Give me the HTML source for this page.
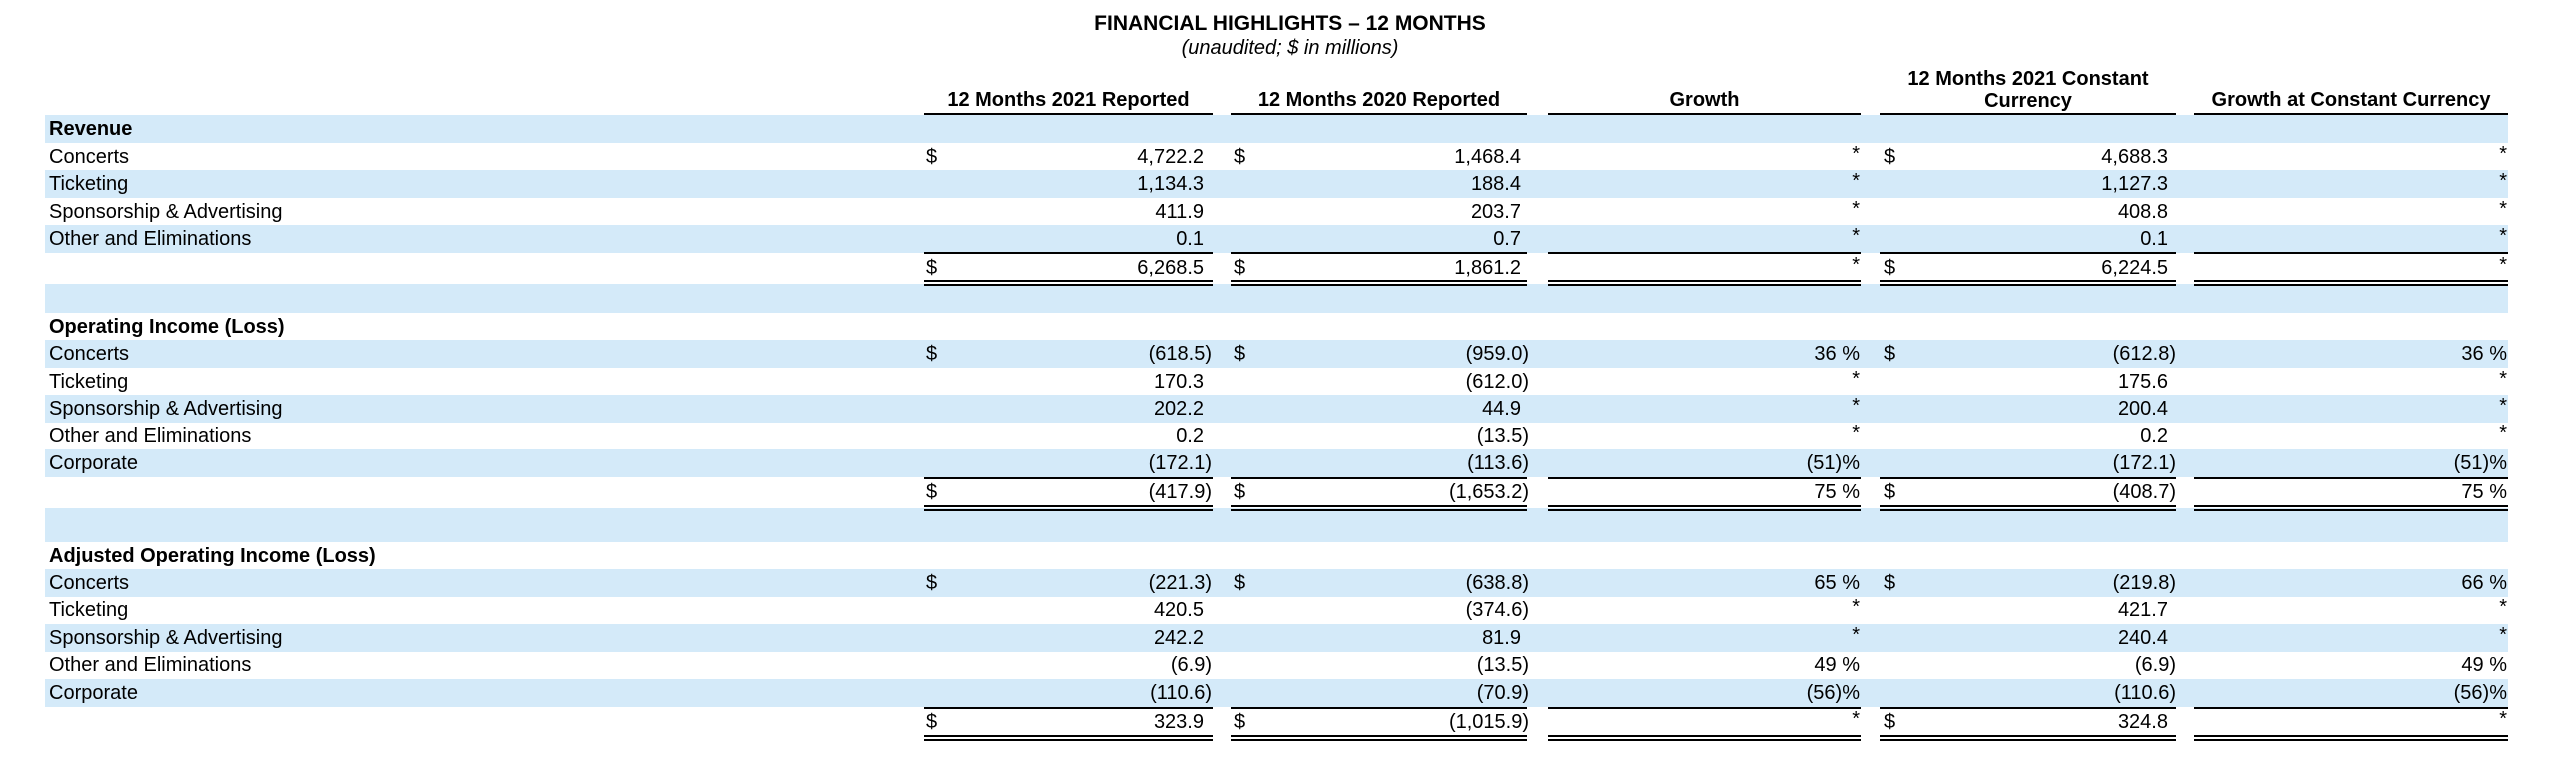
<!DOCTYPE html>
<html><head><meta charset="utf-8"><style>
*{margin:0;padding:0;box-sizing:border-box}
body{width:2560px;height:772px;background:#fff;position:relative;overflow:hidden;font-family:"Liberation Sans",Arial,sans-serif;font-size:20px;color:#000}
.t{position:absolute;left:0;width:2580px;text-align:center}
.h{position:absolute;font-weight:bold;text-align:center;line-height:22px}
.r{position:absolute;left:45px;width:2463px;height:28px;line-height:28px}
.s{background:#d4eaf9}
.r span{position:absolute;top:0;white-space:nowrap}
.l{left:4px}
.b{font-weight:bold}
.d1{left:881px}.d2{left:1189px}.d4{left:1839px}
.v1{right:1304px}.v2{right:987px}.g{right:648px}.v4{right:340px}.g5{right:1px}
.p{position:relative;left:8px}
.st{position:relative;top:-3px;font-size:20px;font-style:normal}
</style></head><body>
<div class="t b" style="top:12px;font-weight:bold;font-size:21px">FINANCIAL HIGHLIGHTS – 12 MONTHS</div>
<div class="t" style="top:37px;font-style:italic">(unaudited; $ in millions)</div>
<div class="h" style="left:924px;width:289px;top:89px">12 Months 2021 Reported</div>
<div class="h" style="left:1231px;width:296px;top:89px">12 Months 2020 Reported</div>
<div class="h" style="left:1548px;width:313px;top:89px">Growth</div>
<div class="h" style="left:1880px;width:296px;top:68px">12 Months 2021 Constant<br>Currency</div>
<div class="h" style="left:2194px;width:314px;top:89px">Growth at Constant Currency</div>

<div class="r s" style="top:115px"><span class="l b">Revenue</span></div>
<div class="r" style="top:143px"><span class="l">Concerts</span><span class="d1">$</span><span class="v1">4,722.2</span><span class="d2">$</span><span class="v2">1,468.4</span><span class="g"><i class="st">*</i></span><span class="d4">$</span><span class="v4">4,688.3</span><span class="g5"><i class="st">*</i></span></div>
<div class="r s" style="top:170px"><span class="l">Ticketing</span><span class="v1">1,134.3</span><span class="v2">188.4</span><span class="g"><i class="st">*</i></span><span class="v4">1,127.3</span><span class="g5"><i class="st">*</i></span></div>
<div class="r" style="top:198px"><span class="l">Sponsorship &amp; Advertising</span><span class="v1">411.9</span><span class="v2">203.7</span><span class="g"><i class="st">*</i></span><span class="v4">408.8</span><span class="g5"><i class="st">*</i></span></div>
<div class="r s" style="top:225px"><span class="l">Other and Eliminations</span><span class="v1">0.1</span><span class="v2">0.7</span><span class="g"><i class="st">*</i></span><span class="v4">0.1</span><span class="g5"><i class="st">*</i></span></div>
<div class="r" style="top:254px"><span class="d1">$</span><span class="v1">6,268.5</span><span class="d2">$</span><span class="v2">1,861.2</span><span class="g"><i class="st">*</i></span><span class="d4">$</span><span class="v4">6,224.5</span><span class="g5"><i class="st">*</i></span></div>
<div class="r s" style="top:284px;height:29px"></div>

<div class="r" style="top:313px"><span class="l b">Operating Income (Loss)</span></div>
<div class="r s" style="top:340px"><span class="l">Concerts</span><span class="d1">$</span><span class="v1"><i class="p" style="font-style:normal">(618.5)</i></span><span class="d2">$</span><span class="v2"><i class="p" style="font-style:normal">(959.0)</i></span><span class="g">36 %</span><span class="d4">$</span><span class="v4"><i class="p" style="font-style:normal">(612.8)</i></span><span class="g5">36 %</span></div>
<div class="r" style="top:368px"><span class="l">Ticketing</span><span class="v1">170.3</span><span class="v2"><i class="p" style="font-style:normal">(612.0)</i></span><span class="g"><i class="st">*</i></span><span class="v4">175.6</span><span class="g5"><i class="st">*</i></span></div>
<div class="r s" style="top:395px"><span class="l">Sponsorship &amp; Advertising</span><span class="v1">202.2</span><span class="v2">44.9</span><span class="g"><i class="st">*</i></span><span class="v4">200.4</span><span class="g5"><i class="st">*</i></span></div>
<div class="r" style="top:422px"><span class="l">Other and Eliminations</span><span class="v1">0.2</span><span class="v2"><i class="p" style="font-style:normal">(13.5)</i></span><span class="g"><i class="st">*</i></span><span class="v4">0.2</span><span class="g5"><i class="st">*</i></span></div>
<div class="r s" style="top:449px"><span class="l">Corporate</span><span class="v1"><i class="p" style="font-style:normal">(172.1)</i></span><span class="v2"><i class="p" style="font-style:normal">(113.6)</i></span><span class="g">(51)%</span><span class="v4"><i class="p" style="font-style:normal">(172.1)</i></span><span class="g5">(51)%</span></div>
<div class="r" style="top:478px"><span class="d1">$</span><span class="v1"><i class="p" style="font-style:normal">(417.9)</i></span><span class="d2">$</span><span class="v2"><i class="p" style="font-style:normal">(1,653.2)</i></span><span class="g">75 %</span><span class="d4">$</span><span class="v4"><i class="p" style="font-style:normal">(408.7)</i></span><span class="g5">75 %</span></div>
<div class="r s" style="top:508px;height:34px"></div>

<div class="r" style="top:542px"><span class="l b">Adjusted Operating Income (Loss)</span></div>
<div class="r s" style="top:569px"><span class="l">Concerts</span><span class="d1">$</span><span class="v1"><i class="p" style="font-style:normal">(221.3)</i></span><span class="d2">$</span><span class="v2"><i class="p" style="font-style:normal">(638.8)</i></span><span class="g">65 %</span><span class="d4">$</span><span class="v4"><i class="p" style="font-style:normal">(219.8)</i></span><span class="g5">66 %</span></div>
<div class="r" style="top:596px"><span class="l">Ticketing</span><span class="v1">420.5</span><span class="v2"><i class="p" style="font-style:normal">(374.6)</i></span><span class="g"><i class="st">*</i></span><span class="v4">421.7</span><span class="g5"><i class="st">*</i></span></div>
<div class="r s" style="top:624px"><span class="l">Sponsorship &amp; Advertising</span><span class="v1">242.2</span><span class="v2">81.9</span><span class="g"><i class="st">*</i></span><span class="v4">240.4</span><span class="g5"><i class="st">*</i></span></div>
<div class="r" style="top:651px"><span class="l">Other and Eliminations</span><span class="v1"><i class="p" style="font-style:normal">(6.9)</i></span><span class="v2"><i class="p" style="font-style:normal">(13.5)</i></span><span class="g">49 %</span><span class="v4"><i class="p" style="font-style:normal">(6.9)</i></span><span class="g5">49 %</span></div>
<div class="r s" style="top:679px"><span class="l">Corporate</span><span class="v1"><i class="p" style="font-style:normal">(110.6)</i></span><span class="v2"><i class="p" style="font-style:normal">(70.9)</i></span><span class="g">(56)%</span><span class="v4"><i class="p" style="font-style:normal">(110.6)</i></span><span class="g5">(56)%</span></div>
<div class="r" style="top:708px"><span class="d1">$</span><span class="v1">323.9</span><span class="d2">$</span><span class="v2"><i class="p" style="font-style:normal">(1,015.9)</i></span><span class="g"><i class="st">*</i></span><span class="d4">$</span><span class="v4">324.8</span><span class="g5"><i class="st">*</i></span></div>

<svg width="2560" height="772" style="position:absolute;left:0;top:0">
<g fill="#000">
<rect x="924" y="113" width="289" height="2"/><rect x="1231" y="113" width="296" height="2"/><rect x="1548" y="113" width="313" height="2"/><rect x="1880" y="113" width="296" height="2"/><rect x="2194" y="113" width="314" height="2"/>
</g>
<g id="tot" fill="#000">
<rect x="924" y="252" width="289" height="2"/><rect x="1231" y="252" width="296" height="2"/><rect x="1548" y="252" width="313" height="2"/><rect x="1880" y="252" width="296" height="2"/><rect x="2194" y="252" width="314" height="2"/>
<rect x="924" y="280" width="289" height="2"/><rect x="1231" y="280" width="296" height="2"/><rect x="1548" y="280" width="313" height="2"/><rect x="1880" y="280" width="296" height="2"/><rect x="2194" y="280" width="314" height="2"/>
<rect x="924" y="284" width="289" height="2"/><rect x="1231" y="284" width="296" height="2"/><rect x="1548" y="284" width="313" height="2"/><rect x="1880" y="284" width="296" height="2"/><rect x="2194" y="284" width="314" height="2"/>
</g>
<use href="#tot" y="225"/>
<use href="#tot" y="455"/>
</svg>
</body></html>
